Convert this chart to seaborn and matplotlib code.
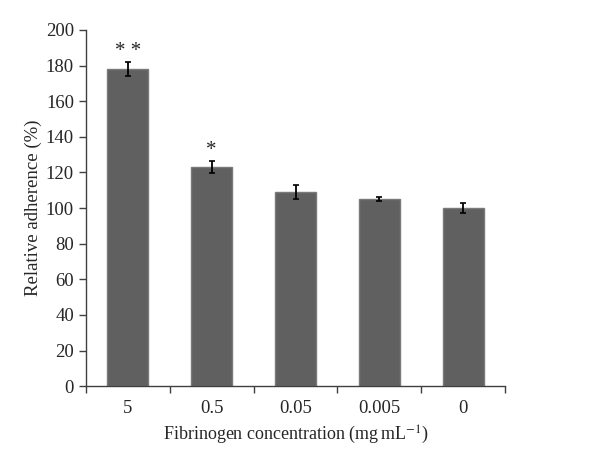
import matplotlib

matplotlib.use("Agg")
import matplotlib.pyplot as plt
import numpy as np
import pandas as pd
import seaborn as sns
from matplotlib.ticker import FixedLocator

concentrations = ["5", "0.5", "0.05", "0.005", "0"]
adherence = [178, 123, 109, 105, 100]
errors = [4, 3.5, 4, 1, 3]
marks = ["* *", "*", "", "", ""]

df = pd.DataFrame({"conc": concentrations, "adh": adherence})

sns.set_theme(style="white")
plt.rcParams["font.family"] = ["Liberation Serif", "DejaVu Serif"]
plt.rcParams["mathtext.fontset"] = "stix"

fig = plt.figure(figsize=(6, 4.67), dpi=100)
ax = fig.add_axes([0.143, 0.173, 0.699, 0.763])

sns.barplot(data=df, x="conc", y="adh", color="#606060", width=0.49,
            edgecolor="#7a7a7a", linewidth=1, saturation=1, ax=ax)
xs = np.arange(len(concentrations))
ax.errorbar(xs, adherence, yerr=errors, fmt="none", ecolor="black",
            elinewidth=1.3, capsize=2.5, capthick=1.2)
for x, v, e, m in zip(xs, adherence, errors, marks):
    if m:
        ax.text(x, v + e + 0.5, m, ha="center", va="bottom", fontsize=15)

ax.set_ylim(0, 200)
ax.set_xlim(-0.5, len(concentrations) - 0.5)
ax.set_yticks(range(0, 201, 20))
ax.xaxis.set_minor_locator(FixedLocator(np.arange(-0.5, len(concentrations), 1)))
ax.tick_params(axis="x", which="major", length=0, labelsize=13.5, pad=10)
ax.tick_params(axis="x", which="minor", length=5, width=1, color="#404040", direction="out", bottom=True)
ax.tick_params(axis="y", length=5, width=1, color="#404040", direction="out", left=True, labelsize=13.5)

for s in ["top", "right"]:
    ax.spines[s].set_visible(False)
for s in ["left", "bottom"]:
    ax.spines[s].set_color("#404040")
    ax.spines[s].set_linewidth(1)

ax.set_xlabel(r"Fibrinogen concentration (mg$\,$mL$^{-1}$)", fontsize=13, labelpad=5)
ax.set_ylabel("Relative adherence (%)", fontsize=13.5, labelpad=3)

fig.savefig("out.png", dpi=100)
